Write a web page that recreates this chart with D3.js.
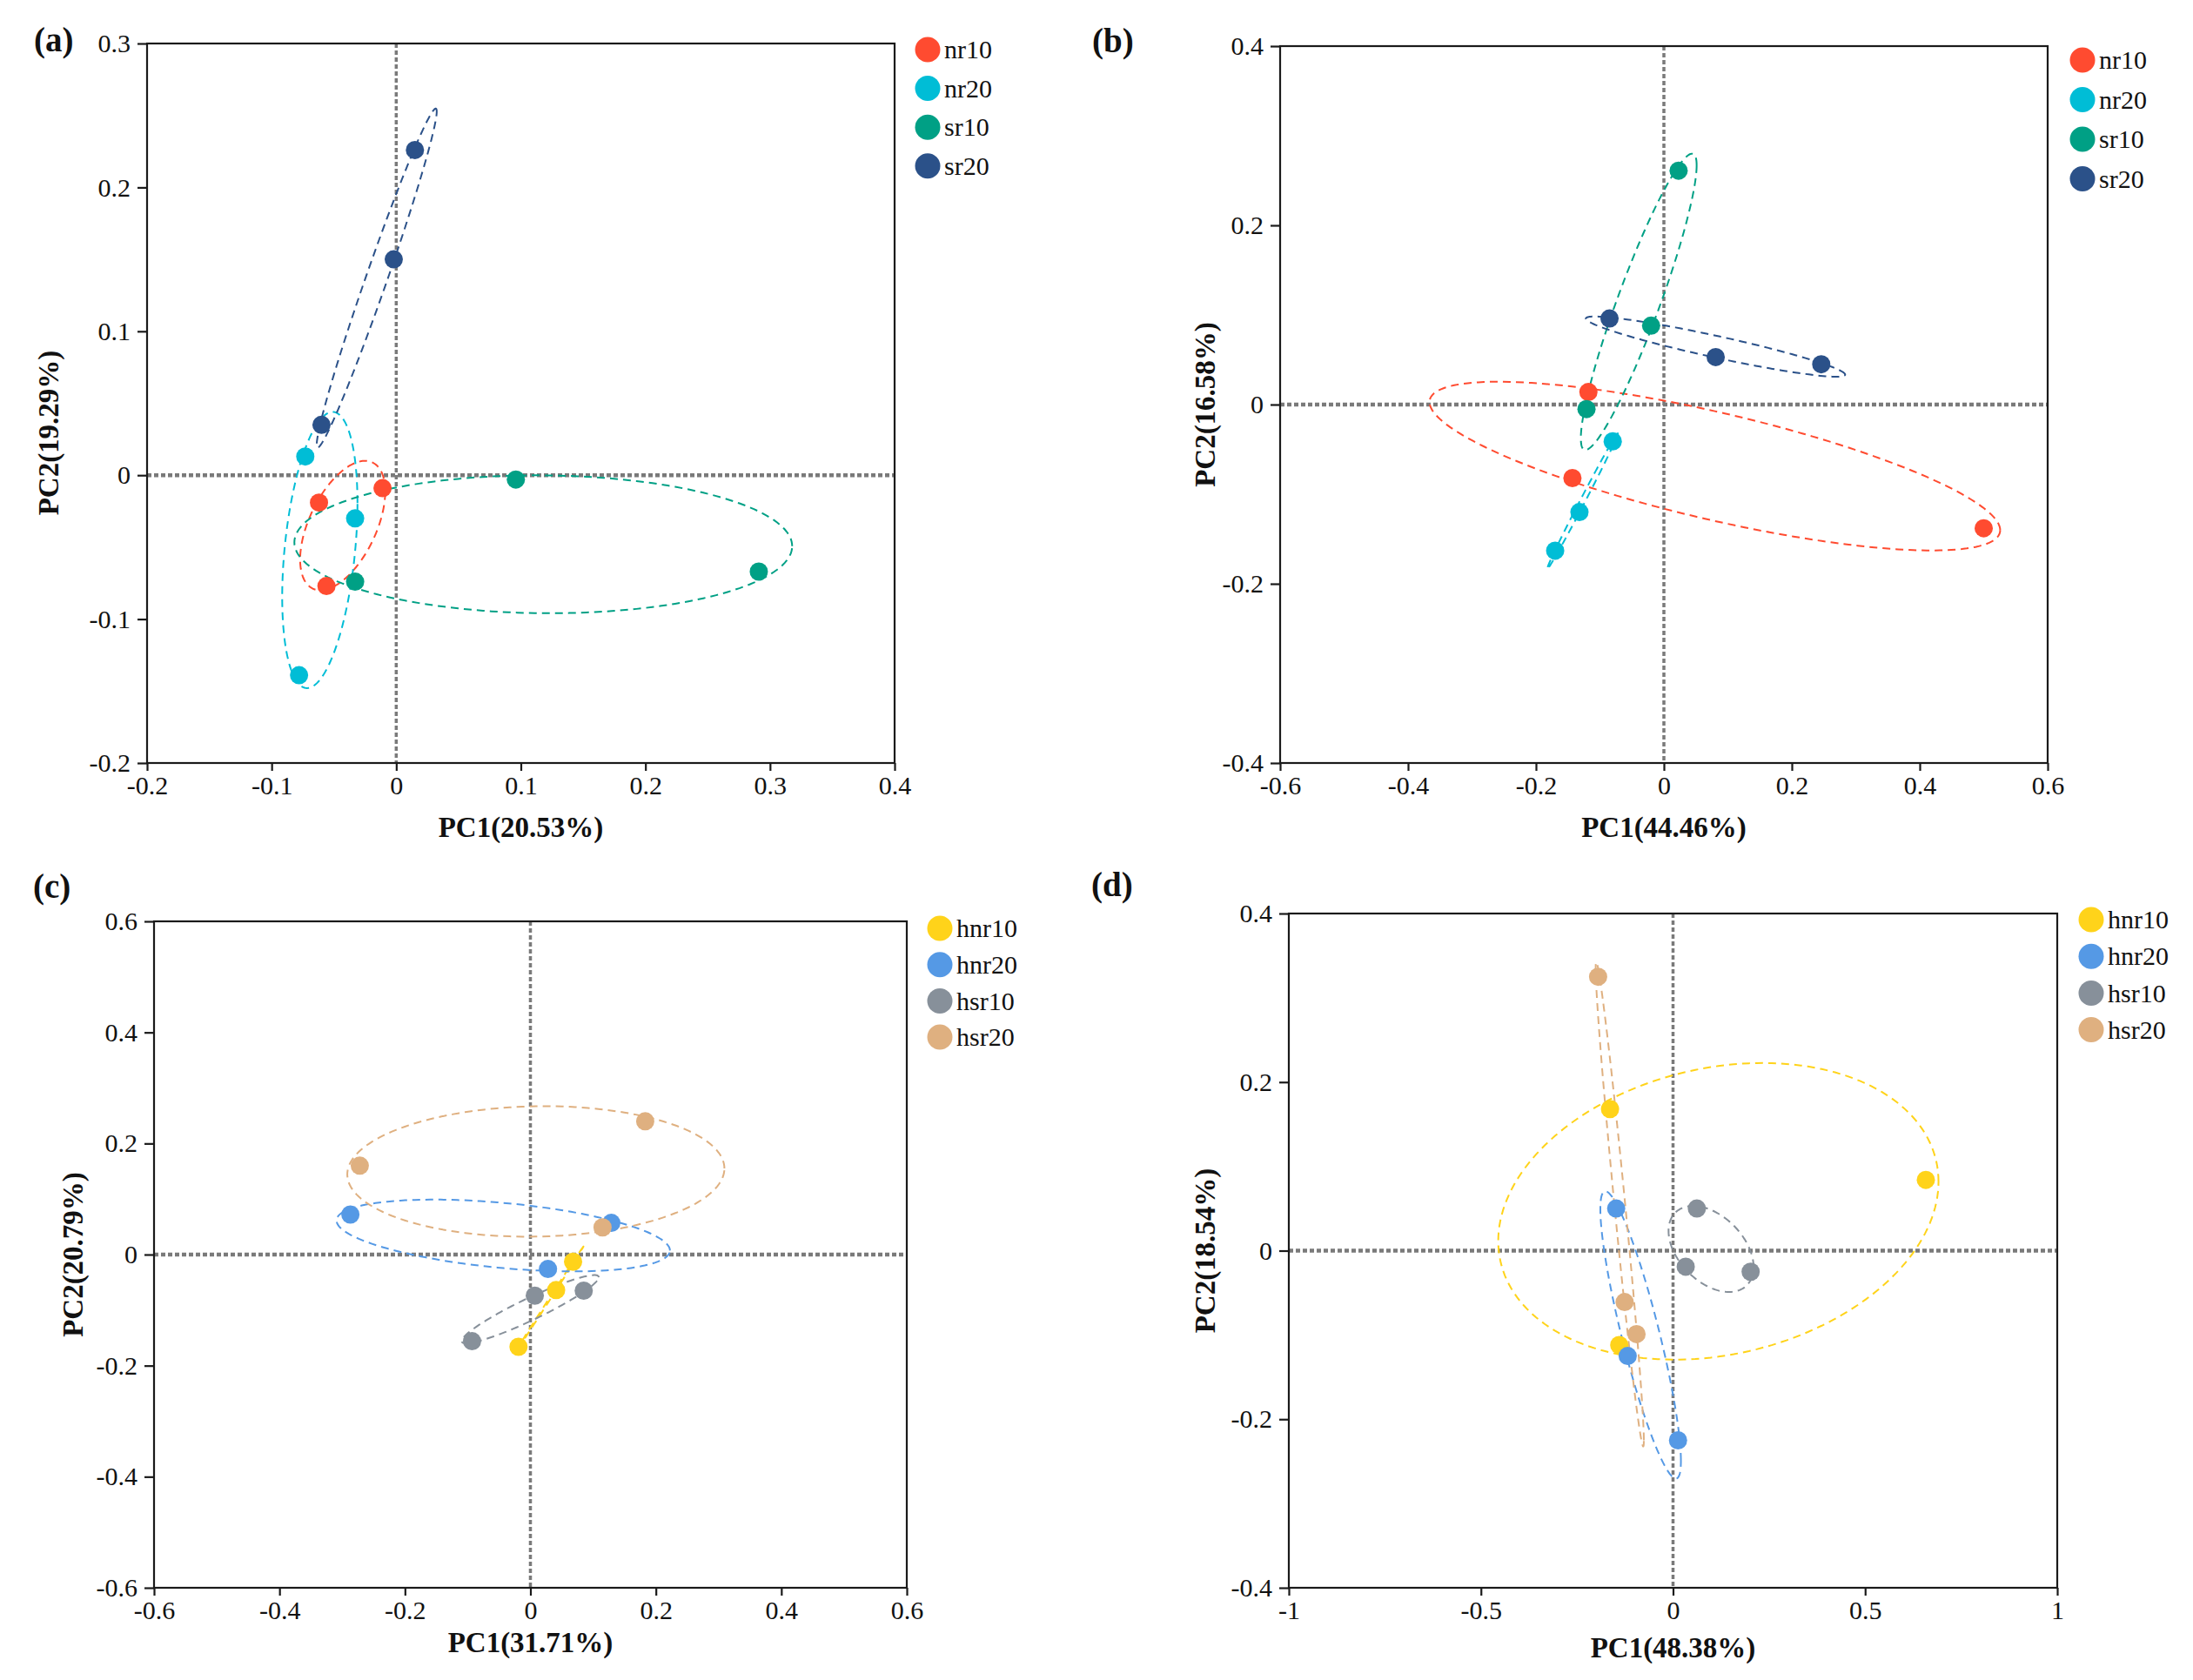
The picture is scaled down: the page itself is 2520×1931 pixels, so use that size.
<!DOCTYPE html>
<html>
<head>
<meta charset="utf-8">
<script src="https://cdn.jsdelivr.net/npm/d3@7"></script>
<style>
  body { margin: 0; background: #fff; }
  text { font-family: "Liberation Serif", "Times New Roman", serif; fill: #111; }
</style>
</head>
<body>
<script>
// group names and colours
const groupsAB = ["nr10", "nr20", "sr10", "sr20"];
const groupsCD = ["hnr10", "hnr20", "hsr10", "hsr20"];
const colorsAB = ["#ff4b30", "#00bdd6", "#00a085", "#2b5189"];
const colorsCD = ["#ffd31a", "#5599e5", "#87909a", "#dfb080"];

// (a) three samples per group
const pc1A = [[-0.062, -0.011, -0.056], [-0.073, -0.033, -0.078], [0.096, 0.291, -0.033], [0.015, -0.002, -0.060]];
const pc2A = [[-0.019, -0.009, -0.077], [0.013, -0.030, -0.139], [-0.003, -0.067, -0.074], [0.226, 0.150, 0.035]];
// (b)
const pc1B = [[-0.118, -0.143, 0.500], [-0.080, -0.132, -0.170], [0.023, -0.020, -0.121], [-0.085, 0.081, 0.246]];
const pc2B = [[0.014, -0.082, -0.138], [-0.041, -0.120, -0.163], [0.261, 0.088, -0.005], [0.096, 0.053, 0.045]];
// (c)
const pc1C = [[0.068, 0.041, -0.019], [-0.287, 0.129, 0.028], [0.007, 0.085, -0.093], [-0.272, 0.183, 0.115]];
const pc2C = [[-0.013, -0.064, -0.166], [0.072, 0.057, -0.026], [-0.074, -0.065, -0.156], [0.160, 0.240, 0.049]];
// (d)
const pc1D = [[-0.164, 0.658, -0.140], [-0.148, -0.118, 0.013], [0.062, 0.033, 0.202], [-0.195, -0.126, -0.095]];
const pc2D = [[0.168, 0.084, -0.112], [0.050, -0.125, -0.225], [0.050, -0.019, -0.025], [0.325, -0.061, -0.099]];

// axis ticks
const xTicksA = [-0.2, -0.1, 0, 0.1, 0.2, 0.3, 0.4];
const yTicksA = [-0.2, -0.1, 0, 0.1, 0.2, 0.3];
const xTicksB = [-0.6, -0.4, -0.2, 0, 0.2, 0.4, 0.6];
const yTicksB = [-0.4, -0.2, 0, 0.2, 0.4];
const xTicksC = [-0.6, -0.4, -0.2, 0, 0.2, 0.4, 0.6];
const yTicksC = [-0.6, -0.4, -0.2, 0, 0.2, 0.4, 0.6];
const xTicksD = [-1, -0.5, 0, 0.5, 1];
const yTicksD = [-0.4, -0.2, 0, 0.2, 0.4];

const svg = d3.select("body").append("svg")
  .attr("width", 2520).attr("height", 1931);

const fmt = d => String(Math.round(d * 10) / 10);
// ellipse scale factor on sample covariance
const K = Math.sqrt(1.5);

function ellipsePts(xs, ys) {
  const n = xs.length;
  const mx = d3.mean(xs), my = d3.mean(ys);
  let sxx = 0, syy = 0, sxy = 0;
  for (let i = 0; i < n; i++) {
    sxx += (xs[i] - mx) ** 2;
    syy += (ys[i] - my) ** 2;
    sxy += (xs[i] - mx) * (ys[i] - my);
  }
  sxx /= n - 1; syy /= n - 1; sxy /= n - 1;
  const a = Math.sqrt(sxx), b = sxy / a, c = Math.sqrt(Math.max(syy - b * b, 1e-12));
  return d3.range(0, 2 * Math.PI, Math.PI / 90).map(t => {
    const u = Math.cos(t), v = Math.sin(t);
    return [mx + K * a * u, my + K * (b * u + c * v)];
  });
}

function panel(p) {
  const g = svg.append("g");
  const x = d3.scaleLinear().domain(p.xdom).range([p.left, p.right]);
  const y = d3.scaleLinear().domain(p.ydom).range([p.bottom, p.top]);

  // zero reference lines
  g.append("line").attr("x1", x(0)).attr("x2", x(0)).attr("y1", p.top).attr("y2", p.bottom)
    .attr("stroke", "#7a7a7a").attr("stroke-width", 3.5).attr("stroke-dasharray", "5,3");
  g.append("line").attr("x1", p.left).attr("x2", p.right).attr("y1", y(0)).attr("y2", y(0))
    .attr("stroke", "#7a7a7a").attr("stroke-width", 4.5).attr("stroke-dasharray", "5,3");

  const line = d3.line().x(d => x(d[0])).y(d => y(d[1])).curve(d3.curveLinearClosed);

  p.groups.forEach((name, i) => {
    g.append("path").attr("d", line(ellipsePts(p.pc1[i], p.pc2[i])))
      .attr("fill", "none").attr("stroke", p.colors[i])
      .attr("stroke-width", 2).attr("stroke-dasharray", "9,6");
  });
  p.groups.forEach((name, i) => {
    g.selectAll(null).data(d3.zip(p.pc1[i], p.pc2[i])).join("circle")
      .attr("cx", d => x(d[0])).attr("cy", d => y(d[1])).attr("r", 10.5)
      .attr("fill", p.colors[i]);
  });

  // frame
  g.append("rect").attr("x", p.left).attr("y", p.top)
    .attr("width", p.right - p.left).attr("height", p.bottom - p.top)
    .attr("fill", "none").attr("stroke", "#1a1a1a").attr("stroke-width", 2.2);

  const xAxis = g.append("g").attr("transform", `translate(0,${p.bottom})`)
    .call(d3.axisBottom(x).tickValues(p.xticks).tickFormat(fmt).tickSize(9).tickPadding(6));
  const yAxis = g.append("g").attr("transform", `translate(${p.left},0)`)
    .call(d3.axisLeft(y).tickValues(p.yticks).tickFormat(fmt).tickSize(11).tickPadding(8));
  [xAxis, yAxis].forEach(ax => {
    ax.select(".domain").remove();
    ax.selectAll("line").attr("stroke", "#1a1a1a").attr("stroke-width", 2.2);
    ax.selectAll("text").attr("font-size", 30).attr("font-family", "Liberation Serif").attr("fill", "#111");
  });

  // titles
  g.append("text").attr("x", (p.left + p.right) / 2).attr("y", p.xtitleY)
    .attr("text-anchor", "middle").attr("font-size", 33).attr("font-weight", "bold")
    .text(p.xtitle);
  g.append("text")
    .attr("transform", `translate(${p.ytitleX},${(p.top + p.bottom) / 2 + p.ytitleShift}) rotate(-90)`)
    .attr("text-anchor", "middle").attr("dominant-baseline", "central")
    .attr("font-size", 33).attr("font-weight", "bold").text(p.ytitle);
  g.append("text").attr("x", p.labX).attr("y", p.labY)
    .attr("font-size", 39).attr("font-weight", "bold").text(p.label);

  // legend
  p.groups.forEach((name, i) => {
    const ly = p.legY + i * p.legStep;
    g.append("circle").attr("cx", p.legX).attr("cy", ly).attr("r", 14.5).attr("fill", p.colors[i]);
    g.append("text").attr("x", p.legX + 19).attr("y", ly).attr("dy", "0.34em")
      .attr("font-size", 30).text(name);
  });
}

panel({ label: "(a)", labX: 39, labY: 59, left: 169, right: 1028, top: 50, bottom: 877,
  xdom: [-0.2, 0.4], ydom: [-0.2, 0.3], xticks: xTicksA, yticks: yTicksA,
  pc1: pc1A, pc2: pc2A, groups: groupsAB, colors: colorsAB,
  xtitle: "PC1(20.53%)", ytitle: "PC2(19.29%)", xtitleY: 962, ytitleX: 56, ytitleShift: 34,
  legX: 1066, legY: 57, legStep: 44.6 });

panel({ label: "(b)", labX: 1255, labY: 60, left: 1471, right: 2353, top: 53, bottom: 877,
  xdom: [-0.6, 0.6], ydom: [-0.4, 0.4], xticks: xTicksB, yticks: yTicksB,
  pc1: pc1B, pc2: pc2B, groups: groupsAB, colors: colorsAB,
  xtitle: "PC1(44.46%)", ytitle: "PC2(16.58%)", xtitleY: 962, ytitleX: 1385, ytitleShift: 0,
  legX: 2393, legY: 69, legStep: 45.5 });

panel({ label: "(c)", labX: 38, labY: 1032, left: 177, right: 1042, top: 1059, bottom: 1825,
  xdom: [-0.6, 0.6], ydom: [-0.6, 0.6], xticks: xTicksC, yticks: yTicksC,
  pc1: pc1C, pc2: pc2C, groups: groupsCD, colors: colorsCD,
  xtitle: "PC1(31.71%)", ytitle: "PC2(20.79%)", xtitleY: 1899, ytitleX: 84, ytitleShift: 0,
  legX: 1080, legY: 1067, legStep: 41.7 });

panel({ label: "(d)", labX: 1254, labY: 1030, left: 1481, right: 2364, top: 1050, bottom: 1825,
  xdom: [-1, 1], ydom: [-0.4, 0.4], xticks: xTicksD, yticks: yTicksD,
  pc1: pc1D, pc2: pc2D, groups: groupsCD, colors: colorsCD,
  xtitle: "PC1(48.38%)", ytitle: "PC2(18.54%)", xtitleY: 1905, ytitleX: 1385, ytitleShift: 0,
  legX: 2403, legY: 1057, legStep: 42.2 });
</script>
</body>
</html>
